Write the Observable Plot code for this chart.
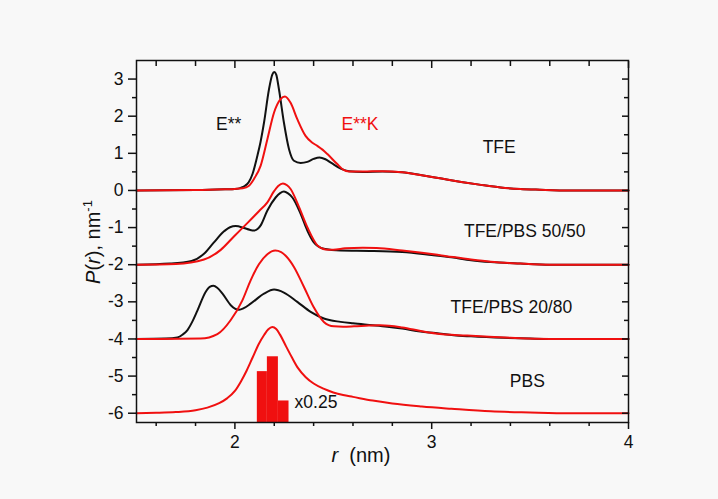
<!DOCTYPE html>
<html><head><meta charset="utf-8">
<script src="https://cdn.jsdelivr.net/npm/d3@7"></script>
<script src="https://cdn.jsdelivr.net/npm/@observablehq/plot@0.6"></script>
<style>
html,body{margin:0;padding:0;background:#f8f8f8;}
svg{display:block;}
</style></head><body><div id="chart"></div>
<script>
// ---- data: [r (nm), P(r) offset] ----
const tfeE = [[1.5,0],[1.8,0.01],[1.95,0.03],[2.0,0.04],[2.03,0.07],[2.05,0.12],[2.07,0.22],[2.09,0.45],[2.114,0.93],[2.13,1.3],[2.148,1.83],[2.173,2.72],[2.19,3.12],[2.2,3.19],[2.21,3.12],[2.224,2.72],[2.249,1.83],[2.275,1.11],[2.30,0.80],[2.334,0.74],[2.368,0.77],[2.40,0.85],[2.43,0.89],[2.46,0.84],[2.49,0.74],[2.54,0.58],[2.58,0.52],[2.65,0.50],[2.75,0.51],[2.85,0.49],[2.95,0.41],[3.05,0.32],[3.15,0.23],[3.25,0.15],[3.35,0.08],[3.45,0.04],[3.55,0.02],[3.7,0.0],[4.0,0.0]];
const tfeEK = [[1.5,0],[1.8,0.01],[1.95,0.03],[2.0,0.04],[2.04,0.06],[2.07,0.12],[2.097,0.31],[2.131,0.67],[2.165,1.38],[2.199,2.10],[2.232,2.46],[2.254,2.53],[2.283,2.36],[2.317,1.92],[2.359,1.47],[2.39,1.3],[2.419,1.20],[2.445,1.10],[2.47,0.98],[2.52,0.71],[2.55,0.56],[2.58,0.51],[2.65,0.51],[2.75,0.52],[2.85,0.49],[2.95,0.41],[3.05,0.32],[3.15,0.23],[3.25,0.15],[3.35,0.08],[3.45,0.04],[3.55,0.02],[3.7,0.0],[4.0,0.0]];
const mix5050E = [[1.5,-2.0],[1.67,-1.97],[1.78,-1.9],[1.84,-1.72],[1.89,-1.42],[1.945,-1.1],[1.975,-0.99],[2.004,-0.96],[2.046,-1.01],[2.075,-1.06],[2.097,-1.08],[2.115,-1.04],[2.131,-0.94],[2.165,-0.54],[2.207,-0.19],[2.23,-0.07],[2.249,-0.03],[2.27,-0.08],[2.292,-0.19],[2.334,-0.63],[2.368,-1.08],[2.40,-1.39],[2.452,-1.57],[2.537,-1.62],[2.7,-1.63],[2.85,-1.66],[3.0,-1.74],[3.1,-1.8],[3.2,-1.88],[3.3,-1.93],[3.45,-1.97],[3.6,-2.0],[4.0,-2.0]];
const mix5050EK = [[1.5,-2.0],[1.7,-1.98],[1.843,-1.86],[1.928,-1.6],[1.995,-1.24],[2.063,-0.88],[2.122,-0.56],[2.165,-0.32],[2.199,-0.02],[2.22,0.12],[2.244,0.19],[2.265,0.14],[2.283,0.04],[2.326,-0.45],[2.368,-0.99],[2.419,-1.48],[2.46,-1.59],[2.5,-1.60],[2.56,-1.56],[2.65,-1.54],[2.72,-1.55],[2.85,-1.62],[2.95,-1.68],[3.05,-1.75],[3.2,-1.86],[3.3,-1.92],[3.45,-1.97],[3.6,-2.0],[4.0,-2.0]];
const mix2080E = [[1.5,-4.0],[1.65,-3.99],[1.708,-3.96],[1.735,-3.88],[1.759,-3.76],[1.785,-3.52],[1.81,-3.23],[1.852,-2.73],[1.872,-2.6],[1.891,-2.57],[1.91,-2.62],[1.937,-2.78],[1.979,-3.09],[2.0,-3.18],[2.021,-3.21],[2.045,-3.17],[2.08,-3.05],[2.148,-2.78],[2.199,-2.67],[2.249,-2.75],[2.317,-3.0],[2.385,-3.27],[2.452,-3.45],[2.537,-3.54],[2.6,-3.58],[2.7,-3.63],[2.774,-3.67],[2.85,-3.72],[2.943,-3.8],[3.02,-3.84],[3.112,-3.9],[3.2,-3.93],[3.366,-3.97],[3.5,-3.99],[3.6,-4.0],[4.0,-4.0]];
const mix2080EK = [[1.5,-4.0],[1.826,-3.99],[1.911,-3.87],[1.979,-3.49],[2.038,-2.96],[2.08,-2.42],[2.122,-1.99],[2.165,-1.72],[2.205,-1.62],[2.235,-1.66],[2.258,-1.76],[2.30,-2.06],[2.351,-2.6],[2.40,-3.14],[2.452,-3.54],[2.503,-3.66],[2.55,-3.67],[2.605,-3.66],[2.68,-3.64],[2.74,-3.63],[2.85,-3.69],[2.95,-3.79],[3.02,-3.85],[3.18,-3.91],[3.4,-3.97],[3.6,-4.0],[4.0,-4.0]];
const pbsEK = [[1.5,-6.0],[1.6,-5.99],[1.7,-5.97],[1.8,-5.92],[1.86,-5.85],[1.92,-5.73],[1.96,-5.6],[2.0,-5.4],[2.03,-5.15],[2.06,-4.85],[2.09,-4.5],[2.12,-4.15],[2.15,-3.88],[2.17,-3.74],[2.19,-3.68],[2.21,-3.73],[2.23,-3.89],[2.26,-4.2],[2.29,-4.5],[2.32,-4.78],[2.36,-5.03],[2.4,-5.2],[2.45,-5.34],[2.5,-5.44],[2.55,-5.51],[2.6,-5.56],[2.7,-5.66],[2.8,-5.74],[2.95,-5.82],[3.1,-5.88],[3.3,-5.95],[3.5,-5.98],[3.7,-6.0],[4.0,-6.0]];

// histogram (x0.25)
const histStart = [2.114, 2.165, 2.221];
const histEnd   = [2.165, 2.221, 2.275];
const histTop   = [-4.88, -4.48, -5.67];

// annotations
const labelText  = ["E**", "E**K", "TFE", "TFE/PBS 50/50", "TFE/PBS 20/80", "PBS", "x0.25"];
const labelR     = [1.968, 2.636, 3.343, 3.473, 3.405, 3.486, 2.412];
const labelP     = [1.79, 1.78, 1.17, -1.10, -3.15, -5.13, -5.71];
const labelColor = ["#111", "#f01010", "#111", "#111", "#111", "#111", "#111"];

// ticks
const xMajor = [2, 3, 4];
const xMinor = [1.6, 1.8, 2.2, 2.4, 2.6, 2.8, 3.2, 3.4, 3.6, 3.8];
const yMajor = [-6, -5, -4, -3, -2, -1, 0, 1, 2, 3];
const yMinor = [-5.5, -4.5, -3.5, -2.5, -1.5, -0.5, 0.5, 1.5, 2.5];

const RED = "#f01010", BLACK = "#111";
const hist = histStart.map((s, i) => ({x1: s, x2: histEnd[i], top: histTop[i]}));
const labels = labelText.map((t, i) => ({t, r: labelR[i], p: labelP[i], c: labelColor[i]}));
const lineOpts = (c) => ({x: d => d[0], y: d => d[1], stroke: c, strokeWidth: 2, curve: "monotone-x"});
const fmt = d => String(d);

const plot = Plot.plot({
  width: 718, height: 499,
  marginLeft: 136, marginRight: 90, marginTop: 60, marginBottom: 77,
  style: {background: "#f8f8f8", fontFamily: "'Liberation Sans', Arial, sans-serif", fontSize: "17px", color: "#111"},
  x: {domain: [1.5, 4]},
  y: {domain: [-6.25, 3.5]},
  marks: [
    Plot.rect(hist, {x1: "x1", x2: "x2", y1: -6.25, y2: "top", fill: RED}),
    Plot.line(tfeE, lineOpts(BLACK)),
    Plot.line(tfeEK, lineOpts(RED)),
    Plot.line(mix5050E, lineOpts(BLACK)),
    Plot.line(mix5050EK, lineOpts(RED)),
    Plot.line(mix2080E, lineOpts(BLACK)),
    Plot.line(mix2080EK, lineOpts(RED)),
    Plot.line(pbsEK, lineOpts(RED)),
    Plot.text(labels, {x: "r", y: "p", text: "t", fill: "c", fontSize: 17.5}),
    // axes
    Plot.axisX({anchor: "bottom", ticks: xMajor, tickSize: 7, tickPadding: 6, label: null, tickFormat: fmt, strokeWidth: 1.5, fontSize: 17.5}),
    Plot.axisX({anchor: "bottom", ticks: xMinor, tickSize: 4, text: null, label: null, strokeWidth: 1.5}),
    Plot.axisX({anchor: "top", ticks: xMajor, tickSize: -7, text: null, label: null, strokeWidth: 1.5}),
    Plot.axisX({anchor: "top", ticks: xMinor, tickSize: -5, text: null, label: null, strokeWidth: 1.5}),
    Plot.axisY({anchor: "left", ticks: yMajor, tickSize: 8, tickPadding: 5, label: null, tickFormat: fmt, strokeWidth: 1.5, fontSize: 17.5}),
    Plot.axisY({anchor: "left", ticks: yMinor, tickSize: 4, text: null, label: null, strokeWidth: 1.5}),
    Plot.axisY({anchor: "right", ticks: yMajor, tickSize: -7, text: null, label: null, strokeWidth: 1.5}),
    Plot.axisY({anchor: "right", ticks: yMinor, tickSize: -5, text: null, label: null, strokeWidth: 1.5}),
    Plot.frame({stroke: BLACK, strokeWidth: 1.5})
  ]
});

// axis titles
const svg = d3.select(plot);
const xt = svg.append("text").attr("x", 361).attr("y", 462).attr("text-anchor", "middle")
  .attr("font-size", 20).attr("fill", BLACK).attr("font-family", "'Liberation Sans', Arial, sans-serif");
xt.append("tspan").attr("font-style", "italic").text("r");
xt.append("tspan").text("\u00a0\u00a0(nm)");
const yt = svg.append("text").attr("transform", "translate(100,242) rotate(-90)").attr("text-anchor", "middle")
  .attr("font-size", 20).attr("fill", BLACK).attr("font-family", "'Liberation Sans', Arial, sans-serif");
yt.append("tspan").attr("font-style", "italic").text("P");
yt.append("tspan").text("(");
yt.append("tspan").attr("font-style", "italic").text("r");
yt.append("tspan").text("), nm");
yt.append("tspan").attr("font-size", 13).attr("dy", -8).text("-1");

document.getElementById("chart").appendChild(plot);
</script></body></html>
